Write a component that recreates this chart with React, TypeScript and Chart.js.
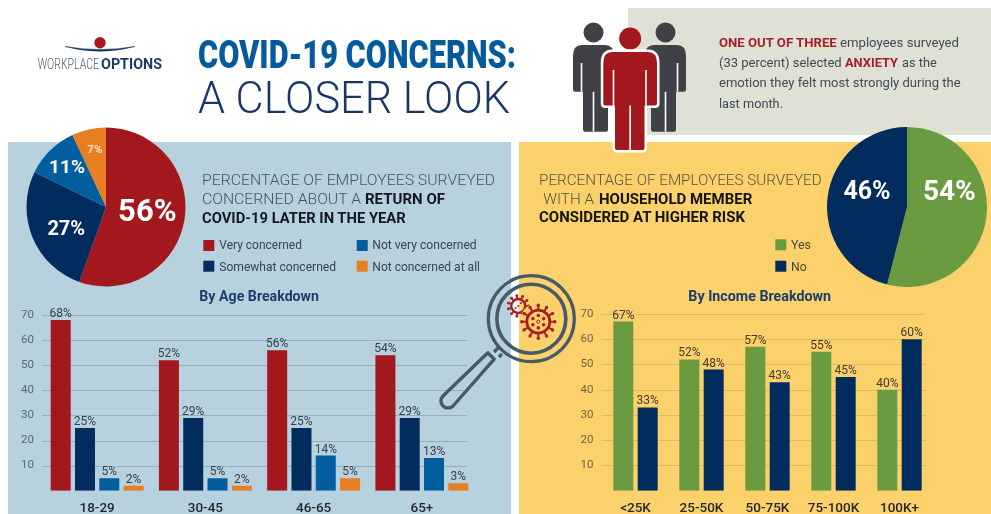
import React, { useEffect, useRef } from "react";
import { Chart, registerables } from "chart.js";

Chart.register(...registerables);

// Overall concern about a return of COVID-19
const concernLabels = ["Very concerned", "Somewhat concerned", "Not very concerned", "Not concerned at all"];
const concernShare = [56, 27, 11, 7];

// Concern by age group
const ageGroups = ["18-29", "30-45", "46-65", "65+"];
const ageVery = [68, 52, 56, 54];
const ageSomewhat = [25, 29, 25, 29];
const ageNotVery = [5, 5, 14, 13];
const ageNotAtAll = [2, 2, 5, 3];

// Household member at higher risk
const riskLabels = ["Yes", "No"];
const riskShare = [54, 46];

// Household risk by income band
const incomeBands = ["<25K", "25-50K", "50-75K", "75-100K", "100K+"];
const incomeYes = [67, 52, 57, 55, 40];
const incomeNo = [33, 48, 43, 45, 60];

const RED = "#A3181D";
const NAVY = "#032C5E";
const BLUE = "#035E9F";
const ORANGE = "#E77F20";
const GREEN = "#6A9B40";
const concernColors = [RED, NAVY, BLUE, ORANGE];
const riskColors = [GREEN, NAVY];

const PANEL_BLUE = "#B7D1DF";
const PANEL_YELLOW = "#FBD16C";
const PANEL_GREY = "#DFE1D4";
const BODY_FONT = "Roboto, sans-serif";
const NARROW_FONT = '"Liberation Sans Narrow", Roboto, sans-serif';

// Horizontal rules that stop short of the category band, plus "nn%" over each bar.
const barDecor = {
  id: "barDecor",
  beforeDatasetsDraw(chart: any, _a: any, opts: any) {
    const { ctx, chartArea, scales } = chart;
    ctx.save();
    ctx.strokeStyle = opts.gridColor;
    ctx.lineWidth = 1;
    for (const tick of scales.y.ticks) {
      if (tick.value === 0) continue;
      const y = Math.round(scales.y.getPixelForValue(tick.value)) + 0.5;
      ctx.beginPath();
      ctx.moveTo(chartArea.left - 1, y);
      ctx.lineTo(chartArea.right - opts.gridInset, y);
      ctx.stroke();
    }
    ctx.restore();
  },
  afterDatasetsDraw(chart: any, _a: any, opts: any) {
    const { ctx } = chart;
    ctx.save();
    ctx.fillStyle = opts.labelColor;
    ctx.font = `12px ${NARROW_FONT}`;
    ctx.textAlign = "center";
    ctx.textBaseline = "alphabetic";
    chart.data.datasets.forEach((ds: any, i: number) => {
      chart.getDatasetMeta(i).data.forEach((bar: any, j: number) => {
        ctx.fillText(`${ds.data[j]}%`, bar.x, bar.y - 3);
      });
    });
    ctx.restore();
  },
};

// Percentages inside the slices; offsets are fractions of the radius from the centre.
const pieLabels = {
  id: "pieLabels",
  afterDatasetsDraw(chart: any, _a: any, opts: any) {
    const { ctx } = chart;
    const arcs = chart.getDatasetMeta(0).data;
    ctx.save();
    ctx.fillStyle = "#FFFFFF";
    ctx.textAlign = "center";
    ctx.textBaseline = "middle";
    arcs.forEach((arc: any, i: number) => {
      const [dx, dy, size, color] = opts.layout[i];
      ctx.font = `700 ${size}px ${BODY_FONT}`;
      ctx.fillStyle = color || "#FFFFFF";
      ctx.fillText(`${chart.data.datasets[0].data[i]}%`, arc.x + dx * arc.outerRadius, arc.y + dy * arc.outerRadius);
    });
    ctx.restore();
  },
};

function PieCanvas({ labels, values, colors, radius, layout, style }: any) {
  const ref = useRef<HTMLCanvasElement>(null);
  useEffect(() => {
    const chart = new Chart(ref.current!, {
      type: "pie",
      data: { labels, datasets: [{ data: values, backgroundColor: colors, borderWidth: 0, radius }] },
      options: {
        animation: false,
        responsive: false,
        plugins: { legend: { display: false }, tooltip: { enabled: false }, pieLabels: { layout } } as any,
      },
      plugins: [pieLabels],
    });
    return () => chart.destroy();
  }, []);
  return <canvas ref={ref} width={170} height={170} style={{ position: "absolute", display: "block", ...style }} />;
}

function BarCanvas({ labels, series, box, axisWidth, pad, catPct, barPct, yMaxPad, gridInset, gridColor, labelColor, tickColor }: any) {
  const ref = useRef<HTMLCanvasElement>(null);
  useEffect(() => {
    const chart = new Chart(ref.current!, {
      type: "bar",
      data: {
        labels,
        datasets: series.map((s: any) => ({
          label: s.name,
          data: s.values,
          backgroundColor: s.color,
          categoryPercentage: catPct,
          barPercentage: barPct,
        })),
      },
      options: {
        animation: false,
        responsive: false,
        layout: { padding: { top: pad.top, right: pad.right, left: 0, bottom: 0 } },
        plugins: {
          legend: { display: false },
          tooltip: { enabled: false },
          barDecor: { gridInset, gridColor, labelColor },
        } as any,
        scales: {
          x: {
            grid: { display: false },
            border: { display: false },
            ticks: {
              color: "#24272B",
              font: { family: BODY_FONT, size: 13.5, weight: 500 },
              padding: 2,
              maxRotation: 0,
              autoSkip: false,
            },
            afterFit: (s: any) => { s.height = 214 - pad.top - yMaxPad; },
          },
          y: {
            min: 0,
            max: 70,
            grid: { display: false },
            border: { display: false },
            ticks: {
              stepSize: 10,
              color: tickColor,
              padding: 1,
              font: { family: NARROW_FONT, size: 11.5 },
              callback: (v: any) => (v === 0 ? "" : v),
            },
            afterFit: (s: any) => { s.width = axisWidth; },
          },
        },
      },
      plugins: [barDecor],
    });
    return () => chart.destroy();
  }, []);
  return (
    <canvas
      ref={ref}
      width={box.width}
      height={214}
      style={{ position: "absolute", display: "block", left: box.left, top: 300 }}
    />
  );
}

// Text placed by its left edge and baseline, fitted to a set run length.
function T({ x, y, w, s, c = "#3F4A52", b = 400, f = BODY_FONT, children }: any) {
  return (
    <text x={x} y={y} textLength={w} lengthAdjust="spacingAndGlyphs" fontSize={s} fill={c} fontWeight={b} fontFamily={f}>
      {children}
    </text>
  );
}

function Virus({ cx, cy, r, spikes, tip, sw }: any) {
  const angles = Array.from({ length: spikes }, (_, i) => (i * 2 * Math.PI) / spikes);
  return (
    <g stroke="#A81F24" fill="#A81F24">
      <circle cx={cx} cy={cy} r={r} fill="none" strokeWidth={sw} />
      {angles.map((a, i) => (
        <g key={i}>
          <line x1={cx + r * Math.cos(a)} y1={cy + r * Math.sin(a)} x2={cx + (r + tip) * Math.cos(a)} y2={cy + (r + tip) * Math.sin(a)} strokeWidth={sw * 0.7} />
          <circle cx={cx + (r + tip) * Math.cos(a)} cy={cy + (r + tip) * Math.sin(a)} r={sw * 0.6} stroke="none" />
        </g>
      ))}
    </g>
  );
}

function Person({ fill, head, top, left, right, armEnd, legEnd, torsoL, torsoR, halo }: any) {
  const mid = (left + right) / 2;
  const body = `M${left + 9} ${top} H${right - 9} Q${right} ${top} ${right} ${top + 11} V${armEnd - 2} Q${right} ${armEnd} ${right - 2} ${armEnd} H${torsoR} V${legEnd - 2} Q${torsoR} ${legEnd} ${torsoR - 2} ${legEnd} H${torsoL + 2} Q${torsoL} ${legEnd} ${torsoL} ${legEnd - 2} V${armEnd} H${left + 2} Q${left} ${armEnd} ${left} ${armEnd - 2} V${top + 11} Q${left} ${top} ${left + 9} ${top} Z`;
  const gap = halo ? "#FFFFFF" : "#FFFFFF";
  return (
    <g>
      <circle cx={mid} cy={top - head - 2.5} r={head} fill={fill} />
      {halo && <path d={body} fill="none" stroke="#FFFFFF" strokeWidth={5} />}
      <path d={body} fill={fill} />
      <line x1={torsoL - 1.5} x2={torsoL - 1.5} y1={top + 18} y2={armEnd} stroke={gap} strokeWidth={1.6} />
      <line x1={torsoR + 1.5} x2={torsoR + 1.5} y1={top + 18} y2={armEnd} stroke={gap} strokeWidth={1.6} />
      <line x1={mid} x2={mid} y1={armEnd} y2={legEnd} stroke={gap} strokeWidth={1.6} />
    </g>
  );
}

export default function App() {
  const ageSeries = [
    { name: concernLabels[0], values: ageVery, color: RED },
    { name: concernLabels[1], values: ageSomewhat, color: NAVY },
    { name: concernLabels[2], values: ageNotVery, color: BLUE },
    { name: concernLabels[3], values: ageNotAtAll, color: ORANGE },
  ];
  const incomeSeries = [
    { name: riskLabels[0], values: incomeYes, color: GREEN },
    { name: riskLabels[1], values: incomeNo, color: NAVY },
  ];

  const panel = (left: number, top: number, width: number, height: number, background: string) => (
    <div style={{ position: "absolute", left, top, width, height, background }} />
  );

  return (
    <div style={{ position: "absolute", left: 0, top: 0, width: 991, height: 514, overflow: "hidden", background: "#FFFFFF" }}>
      {panel(8, 142, 503, 372, PANEL_BLUE)}
      {panel(519, 142, 472, 372, PANEL_YELLOW)}
      {panel(628, 8, 363, 127, PANEL_GREY)}

      <PieCanvas
        labels={concernLabels}
        values={concernShare}
        colors={concernColors}
        radius={79.5}
        layout={[[0.52, 0.08, 31], [-0.5, 0.29, 20], [-0.49, -0.49, 19], [-0.14, -0.72, 11.5, "#F8E3C8"]]}
        style={{ left: 21, top: 122 }}
      />
      <PieCanvas
        labels={riskLabels}
        values={riskShare}
        colors={riskColors}
        radius={80}
        layout={[[0.53, -0.17, 28], [-0.5, -0.18, 25]]}
        style={{ left: 822, top: 122 }}
      />

      <BarCanvas
        labels={ageGroups}
        series={ageSeries}
        box={{ left: 8, width: 476 }}
        axisWidth={35}
        pad={{ top: 15, right: 8 }}
        yMaxPad={175.7}
        catPct={0.898}
        barPct={0.823}
        gridInset={9}
        gridColor="#93AEBD"
        labelColor="#33424E"
        tickColor="#566874"
      />
      <BarCanvas
        labels={incomeBands}
        series={incomeSeries}
        box={{ left: 560, width: 380 }}
        axisWidth={42.5}
        pad={{ top: 14, right: 7.5 }}
        yMaxPad={176.7}
        catPct={0.739}
        barPct={0.82}
        gridInset={7}
        gridColor="#DDB963"
        labelColor="#44392A"
        tickColor="#6D634A"
      />

      <svg width={991} height={514} style={{ position: "absolute", left: 0, top: 0 }}>
        {/* Logo */}
        <circle cx={100} cy={42.7} r={5.7} fill="#A8181E" />
        <path d="M65 46.5 Q100 56 135 46.5 Q100 52.5 65 46.5 Z" fill="#1C3560" stroke="#1C3560" strokeWidth={0.5} />
        <T x={37.7} y={69.3} w={61.3} s={14} c="#4B5A6E" b={300}>WORKPLACE</T>
        <T x={101} y={69.3} w={61} s={14} c="#1D3A66" b={700}>OPTIONS</T>

        {/* Heading */}
        <T x={198} y={68.3} w={318} s={39.5} c="#045A9B" b={900}>COVID-19 CONCERNS:</T>
        <T x={198} y={113.3} w={312} s={44.5} c="#1A3764" b={300}>A CLOSER LOOK</T>

        {/* Figures */}
        <Person fill="#3F4146" head={10} top={45} left={573} right={614} armEnd={91.7} legEnd={131.7} torsoL={583} torsoR={608} />
        <Person fill="#3F4146" head={10} top={45} left={645} right={686} armEnd={91.7} legEnd={131.7} torsoL={651} torsoR={676} />
        <Person fill={RED} head={11} top={52} left={603.3} right={657} armEnd={105.5} legEnd={150} torsoL={615} torsoR={644.5} halo />

        {/* Callout */}
        <T x={719} y={46.7} w={117.7} s={13.5} c="#A3222A" b={700}>ONE OUT OF THREE</T>
        <T x={840} y={46.7} w={119} s={13.5}>employees surveyed</T>
        <T x={719} y={66.7} w={122.7} s={13.5}>(33 percent) selected</T>
        <T x={845} y={66.7} w={53} s={13.5} c="#A3222A" b={700}>ANXIETY</T>
        <T x={902} y={66.7} w={34.7} s={13.5}>as the</T>
        <T x={719} y={87} w={241.7} s={13.5}>emotion they felt most strongly during the</T>
        <T x={719} y={107.7} w={64} s={13.5}>last month.</T>

        {/* Left panel copy */}
        <T x={202} y={185.3} w={293} s={15.5} c="#46535D" b={300}>PERCENTAGE OF EMPLOYEES SURVEYED</T>
        <T x={202} y={204} w={159} s={15.5} c="#46535D" b={300}>CONCERNED ABOUT A</T>
        <T x={365} y={204} w={80} s={15.5} c="#14181C" b={700}>RETURN OF</T>
        <T x={202} y={222.7} w={203.7} s={15.5} c="#14181C" b={700}>COVID-19 LATER IN THE YEAR</T>

        {concernLabels.map((label, i) => {
          const col = i > 1 ? 1 : 0;
          const row = i % 2;
          const widths = [82.7, 116.7, 104.4, 107.7];
          return (
            <g key={label}>
              <rect x={col ? 356.7 : 203.3} y={row ? 260.7 : 240} width={11} height={11} fill={concernColors[i]} />
              <T x={col ? 372.3 : 219.3} y={row ? 270.7 : 249.3} w={widths[i]} s={13} c="#39454F">{label}</T>
            </g>
          );
        })}
        <T x={199.3} y={301} w={119.7} s={14} c="#1C3E6E" b={700}>By Age Breakdown</T>

        {/* Right panel copy */}
        <T x={539} y={185} w={282.7} s={15.5} c="#5A5340" b={300}>PERCENTAGE OF EMPLOYEES SURVEYED</T>
        <T x={543.3} y={203.7} w={50.7} s={15.5} c="#5A5340" b={300}>WITH A</T>
        <T x={599} y={203.7} w={153.3} s={15.5} c="#14140F" b={700}>HOUSEHOLD MEMBER</T>
        <T x={539} y={222.3} w={206} s={15.5} c="#14140F" b={700}>CONSIDERED AT HIGHER RISK</T>

        {riskLabels.map((label, i) => (
          <g key={label}>
            <rect x={775.3} y={i ? 260.7 : 239.3} width={11} height={11} fill={riskColors[i]} />
            <T x={791} y={i ? 270.7 : 249} w={i ? 15.7 : 20} s={13} c="#4A4638">{label}</T>
          </g>
        ))}
        <T x={688.3} y={301} w={142.7} s={14} c="#1C3E6E" b={700}>By Income Breakdown</T>

        {/* Magnifier */}
        <Virus cx={518.3} cy={306} r={7} spikes={11} tip={3.4} sw={2.4} />
        <circle cx={518.3} cy={306} r={1.1} fill="#A81F24" />
        <circle cx={515.5} cy={308} r={1.1} fill="#A81F24" />
        <circle cx={521} cy={303} r={1.1} fill="#A81F24" />
        <circle cx={538.3} cy={321.7} r={18.5} fill={PANEL_YELLOW} />
        <Virus cx={538.3} cy={321.7} r={11.5} spikes={12} tip={5} sw={2.8} />
        <circle cx={538.3} cy={321.7} r={1.6} fill="none" stroke="#A81F24" strokeWidth={1} />
        {[0, 1, 2, 3, 4, 5].map((i) => {
          const a = (i * Math.PI) / 3 + Math.PI / 6;
          return <circle key={i} cx={538.3 + 6.2 * Math.cos(a)} cy={321.7 + 6.2 * Math.sin(a)} r={1.8} fill="#A81F24" />;
        })}
        <g fill="none" stroke="#4A5967">
          <circle cx={531.3} cy={318.7} r={43} strokeWidth={3.2} />
          <circle cx={531.3} cy={318.7} r={34.5} strokeWidth={3.6} />
          <path d="M487.8 352.8 L443 396 A7 7 0 0 0 453 406 L494.2 359.2 Z" strokeWidth={3.4} strokeLinejoin="round" />
          <path d="M494 352 L499 347" strokeWidth={3.4} />
          <path d="M499 357 L502 354" strokeWidth={3.4} />
        </g>
      </svg>
    </div>
  );
}
